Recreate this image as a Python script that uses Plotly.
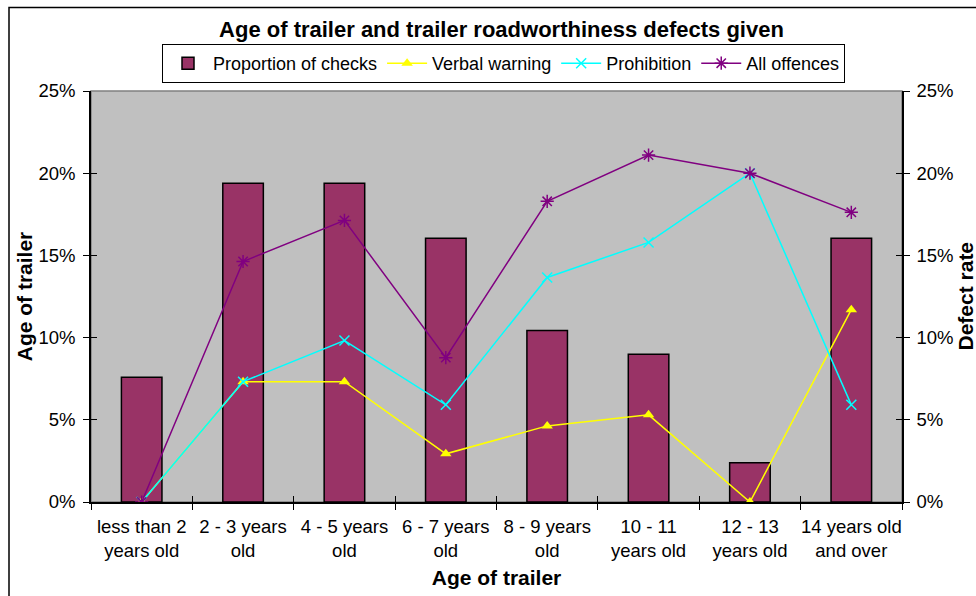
import plotly.graph_objects as go

categories = ["less than 2<br>years old", "2 - 3 years<br>old", "4 - 5 years<br>old",
              "6 - 7 years<br>old", "8 - 9 years<br>old", "10 - 11<br>years old",
              "12 - 13<br>years old", "14 years old<br>and over"]
proportion_of_checks = [0.0759, 0.1939, 0.1939, 0.1604, 0.1043, 0.0899, 0.0238, 0.1604]
verbal_warning = [0.0, 0.0732, 0.0732, 0.0293, 0.0463, 0.0530, 0.0, 0.1170]
prohibition = [0.0, 0.0732, 0.0982, 0.0591, 0.1366, 0.1579, 0.2000, 0.0591]
all_offences = [0.0, 0.1463, 0.1713, 0.0878, 0.1829, 0.2110, 0.2000, 0.1762]
y_ticks = [0, 0.05, 0.10, 0.15, 0.20, 0.25]

FONT = "Liberation Sans, Arial, sans-serif"
OFF = 0  # body margin removed by post_script
W, H = 976 - OFF, 596 - OFF
L, T = 91 - OFF, 91 - OFF
R, B = W - (902 - OFF), H - (502 - OFF)
pw, ph = W - L - R, H - T - B

def px_x(page_x):
    return (page_x - OFF - L) / pw

def px_y(page_y):
    return (H - B - (page_y - OFF)) / ph

fig = go.Figure()
fig.add_trace(go.Bar(
    x=categories, y=proportion_of_checks, name="Proportion of checks",
    marker=dict(color="#993366", line=dict(color="black", width=1.5)),
    xaxis="x", yaxis="y"))
fig.add_trace(go.Scatter(
    x=categories, y=verbal_warning, name="Verbal warning", mode="lines+markers",
    line=dict(color="#FFFF00", width=1.5),
    marker=dict(symbol="triangle-up", size=10, color="#FFFF00"),
    xaxis="x", yaxis="y2"))
fig.add_trace(go.Scatter(
    x=categories, y=prohibition, name="Prohibition", mode="lines+markers",
    line=dict(color="#00FFFF", width=1.5),
    marker=dict(symbol="x-thin-open", size=10, color="#00FFFF", line=dict(width=1.5, color="#00FFFF")),
    xaxis="x", yaxis="y2"))
fig.add_trace(go.Scatter(
    x=categories, y=all_offences, name="All offences", mode="lines+markers",
    line=dict(color="#800080", width=1.5),
    marker=dict(symbol="asterisk-open", size=11, color="#800080", line=dict(width=1.5, color="#800080")),
    xaxis="x", yaxis="y2"))
# helper traces (empty) so the inner tick axes get drawn
fig.add_trace(go.Scatter(x=categories, y=[None] * len(categories), xaxis="x2", yaxis="y3",
                         showlegend=False, hoverinfo="skip", mode="lines"))
fig.add_trace(go.Scatter(x=categories, y=[None] * len(categories), xaxis="x", yaxis="y4",
                         showlegend=False, hoverinfo="skip", mode="lines"))

tickfont = dict(family=FONT, size=18.5, color="black")
titlefont = dict(family=FONT, size=21, color="black")
yfmt = dict(range=[0, 0.25], tickvals=y_ticks, tickformat=".0%", showgrid=False,
            zeroline=False, fixedrange=True, automargin=False)

fig.update_layout(
    width=W, height=H,
    margin=dict(l=L, r=R, t=T, b=B, autoexpand=False),
    paper_bgcolor="white", plot_bgcolor="#C0C0C0",
    font=dict(family=FONT, color="black"),
    bargap=0.6,
    showlegend=True,
    title=dict(text="<b>Age of trailer and trailer roadworthiness defects given</b>",
               font=dict(family=FONT, size=22, color="black"),
               x=(501.5 - OFF) / W, xanchor="center", y=1 - (29 - OFF) / H, yanchor="middle",
               automargin=False),
    legend=dict(orientation="h", x=px_x(503.5), xanchor="center", y=px_y(44), yanchor="top",
                bgcolor="white", bordercolor="black", borderwidth=1,
                font=dict(family=FONT, size=18, color="black"),
                traceorder="normal", itemwidth=40),
    xaxis=dict(type="category", tickson="boundaries", ticks="outside", ticklen=6,
               tickcolor="black", showline=True, linecolor="black", linewidth=1.5,
               tickfont=tickfont, showgrid=False, tickangle=0, automargin=False,
               ticklabelstandoff=7,
               title=dict(text="<b>Age of trailer</b>", font=titlefont, standoff=10)),
    xaxis2=dict(type="category", overlaying="x", anchor="y", side="bottom",
                tickson="boundaries", ticks="inside", ticklen=6, tickcolor="black",
                showticklabels=False, showline=False, showgrid=False, matches="x",
                automargin=False),
    yaxis=dict(**yfmt, ticks="outside", ticklen=6, tickcolor="black",
               showline=True, linecolor="black", linewidth=1.5, tickfont=tickfont,
               ticklabelstandoff=4,
               title=dict(text="<b>Age of trailer</b>", font=titlefont, standoff=0)),
    yaxis2=dict(**yfmt, overlaying="y", side="right", ticks="outside", ticklen=6,
                tickcolor="black", showline=True, linecolor="black", linewidth=1.5,
                tickfont=tickfont, ticklabelstandoff=3),
    yaxis3=dict(**yfmt, overlaying="y", side="left", ticks="inside", ticklen=6,
                tickcolor="black", showticklabels=False, showline=False),
    yaxis4=dict(**yfmt, overlaying="y", side="right", ticks="inside", ticklen=6,
                tickcolor="black", showticklabels=False, showline=False),
    annotations=[
        dict(text="<b>Defect rate</b>", textangle=-90, xref="paper", yref="paper",
             x=px_x(965), y=0.5, xanchor="center", yanchor="middle", showarrow=False,
             font=titlefont),
    ],
    shapes=[
        dict(type="rect", xref="paper", yref="paper", x0=0, x1=1, y0=0, y1=1,
             line=dict(color="#808080", width=1.5), layer="below"),
        dict(type="rect", xref="paper", yref="paper",
             x0=px_x(9), x1=px_x(1000), y0=px_y(620), y1=px_y(7.5),
             line=dict(color="black", width=1.5), fillcolor="rgba(0,0,0,0)"),
    ],
)

fig.write_html(
    "out.html",
    config={"displayModeBar": False},
    post_script="document.body.style.margin='0';document.body.style.overflow='hidden';",
)
